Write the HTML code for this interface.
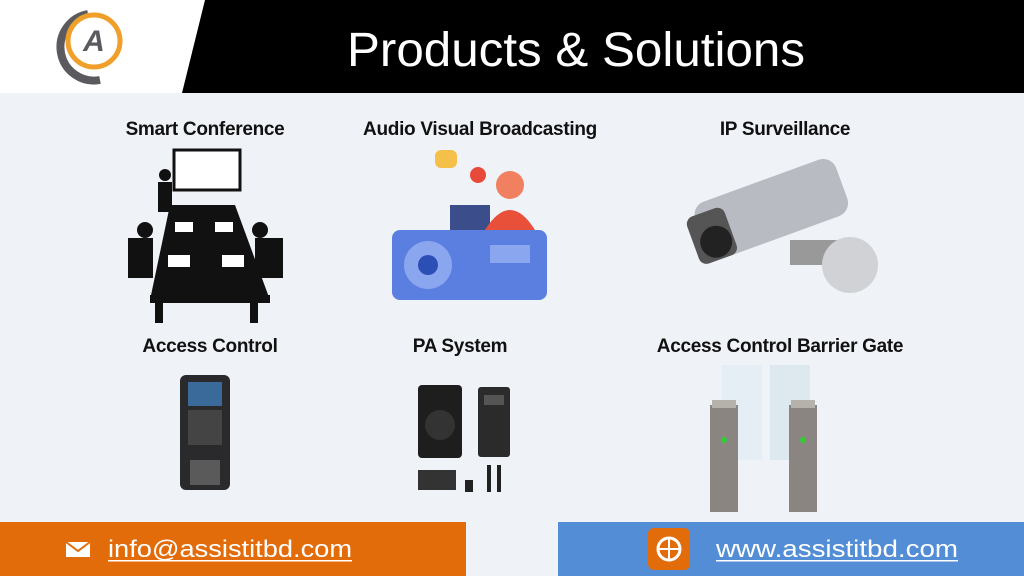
<!DOCTYPE html>
<html><head><style>
*{margin:0;padding:0;box-sizing:border-box}
body{width:1024px;height:576px;position:relative;overflow:hidden;background:#eff2f7;font-family:"Liberation Sans",sans-serif}
.a{position:absolute}
.t{position:absolute;font-weight:bold;font-size:19px;color:#111;white-space:nowrap;text-align:center;letter-spacing:-0.3px}
</style></head><body>
<div class="a" style="left:0;top:0;width:1024px;height:93px;background:#fff"></div>
<svg class="a" style="left:0;top:0" width="1024" height="93">
<polygon points="205,0 1024,0 1024,93 182,93" fill="#000"/>
<path d="M88,14 A32,32 0 0 0 100,80" stroke="#5b5b5f" stroke-width="8" fill="none"/>
<circle cx="94" cy="41" r="26" fill="none" stroke="#f0a02a" stroke-width="5"/>
<text x="94" y="51" font-family="Liberation Sans" font-weight="bold" font-style="italic" font-size="30" fill="#5b5b5f" text-anchor="middle">A</text>
<text x="347" y="66" font-family="Liberation Sans" font-size="48" fill="#fff" textLength="458" lengthAdjust="spacingAndGlyphs">Products &amp; Solutions</text>
</svg>

<div class="t" style="left:105px;top:119px;width:200px">Smart Conference</div>
<div class="t" style="left:340px;top:119px;width:280px">Audio Visual Broadcasting</div>
<div class="t" style="left:685px;top:119px;width:200px">IP Surveillance</div>
<div class="t" style="left:120px;top:336px;width:180px">Access Control</div>
<div class="t" style="left:380px;top:336px;width:160px">PA System</div>
<div class="t" style="left:640px;top:336px;width:280px">Access Control Barrier Gate</div>

<svg class="a" style="left:0;top:0" width="1024" height="576">
<rect x="174" y="150" width="66" height="40" fill="#fff" stroke="#111" stroke-width="3"/>
<polygon points="170,205 235,205 270,300 150,300" fill="#111"/>
<rect x="150" y="295" width="120" height="8" fill="#111"/>
<rect x="155" y="303" width="8" height="20" fill="#111"/><rect x="250" y="303" width="8" height="20" fill="#111"/>
<g fill="#fff"><rect x="175" y="222" width="18" height="10"/><rect x="215" y="222" width="18" height="10"/><rect x="168" y="255" width="22" height="12"/><rect x="222" y="255" width="22" height="12"/></g>
<g fill="#111"><circle cx="165" cy="175" r="6"/><rect x="158" y="182" width="14" height="30"/>
<circle cx="145" cy="230" r="8"/><circle cx="140" cy="255" r="9"/><circle cx="260" cy="230" r="8"/><circle cx="268" cy="255" r="9"/>
<rect x="128" y="238" width="25" height="40"/><rect x="255" y="238" width="28" height="40"/></g>
<rect x="392" y="230" width="155" height="70" rx="8" fill="#5b7fe0"/>
<circle cx="428" cy="265" r="24" fill="#8aa6ee"/><circle cx="428" cy="265" r="10" fill="#2b4fb5"/>
<rect x="490" y="245" width="40" height="18" fill="#8aa6ee"/>
<rect x="450" y="205" width="40" height="25" fill="#3b4d8a"/>
<circle cx="510" cy="185" r="14" fill="#f08060"/><path d="M485,230 Q510,190 535,230Z" fill="#e8503a"/>
<rect x="435" y="150" width="22" height="18" rx="6" fill="#f5c04a"/><circle cx="478" cy="175" r="8" fill="#e84a3a"/>
<g transform="rotate(-20 770 220)"><rect x="700" y="180" width="150" height="60" rx="14" fill="#b8bcc2"/><rect x="690" y="190" width="40" height="50" rx="8" fill="#555"/><circle cx="712" cy="222" r="16" fill="#222"/></g>
<rect x="790" y="240" width="50" height="25" fill="#999"/><circle cx="850" cy="265" r="28" fill="#d0d2d5"/>
<rect x="180" y="375" width="50" height="115" rx="6" fill="#2a2a2c"/>
<rect x="188" y="382" width="34" height="24" fill="#3a6a9a"/>
<rect x="188" y="410" width="34" height="35" fill="#444"/>
<rect x="190" y="460" width="30" height="25" fill="#5a5a5a"/>
<rect x="418" y="385" width="44" height="73" rx="4" fill="#1e1e1e"/><circle cx="440" cy="425" r="15" fill="#333"/>
<rect x="478" y="387" width="32" height="70" rx="3" fill="#2b2b2b"/><rect x="484" y="395" width="20" height="10" fill="#555"/>
<rect x="418" y="470" width="38" height="20" fill="#333"/><rect x="465" y="480" width="8" height="12" fill="#222"/>
<rect x="487" y="465" width="4" height="27" fill="#222"/><rect x="497" y="465" width="4" height="27" fill="#222"/>
<rect x="722" y="365" width="40" height="95" fill="#e4eef4"/><rect x="770" y="365" width="40" height="95" fill="#dde8ef"/>
<rect x="710" y="405" width="28" height="107" fill="#8a8580"/><rect x="712" y="400" width="24" height="8" fill="#b5b1ab"/>
<rect x="789" y="405" width="28" height="107" fill="#8a8580"/><rect x="791" y="400" width="24" height="8" fill="#b5b1ab"/>
<circle cx="724" cy="440" r="3" fill="#3c3"/><circle cx="803" cy="440" r="3" fill="#3c3"/>
<rect x="0" y="522" width="466" height="54" fill="#e36c0a"/>
<rect x="558" y="522" width="466" height="54" fill="#538dd5"/>
<rect x="66" y="542" width="24" height="15" fill="#fff"/><path d="M66,542 L78,551 L90,542" stroke="#e36c0a" stroke-width="2" fill="none"/>
<rect x="648" y="528" width="42" height="42" rx="6" fill="#e36c0a"/>
<circle cx="669" cy="549" r="11" fill="none" stroke="#fff" stroke-width="3"/><path d="M658,549 H680 M669,538 V560" stroke="#fff" stroke-width="2"/>
<text x="108" y="557" font-family="Liberation Sans" font-size="24" fill="#fff" textLength="244" lengthAdjust="spacingAndGlyphs">info@assistitbd.com</text>
<text x="716" y="557" font-family="Liberation Sans" font-size="24" fill="#fff" textLength="242" lengthAdjust="spacingAndGlyphs">www.assistitbd.com</text>
<rect x="108" y="560" width="244" height="1.5" fill="#fff"/>
<rect x="716" y="560" width="242" height="1.5" fill="#fff"/>
</svg>
</body></html>
